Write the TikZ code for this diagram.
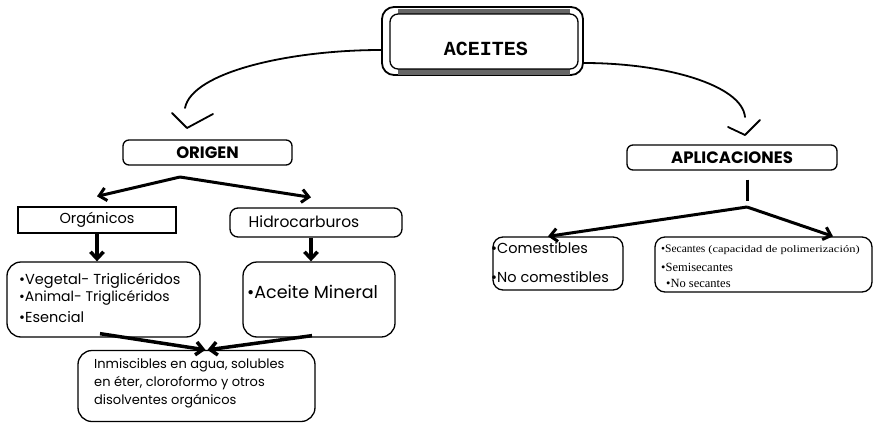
\documentclass[tikz,border=0pt]{standalone}
\usepackage{fontspec}
\usepackage{graphicx}
\setmainfont{Poppins}
\newfontfamily\serifF{Liberation Serif}
\newfontfamily\monoF{Liberation Mono}
\usetikzlibrary{arrows.meta,calc}
\begin{document}
\begin{tikzpicture}[x=1pt,y=-1pt,
  box/.style={draw, line width=1.3pt, rounded corners=#1, inner sep=0pt},
  box/.default=10pt,
  txt/.style={inner sep=0pt, anchor=west, font=\fontsize{13}{15}\selectfont},
  sertxt/.style={inner sep=0pt, anchor=west, font=\serifF\fontsize{12.5}{14}\selectfont},
  heavy/.style={line width=#1, -{Straight Barb[length=7pt,width=13pt,line width=#1]}},
  heavy/.default=3pt,
  bigcurve/.style={line width=1.8pt, line cap=round, line join=round},
]
\useasboundingbox (0,0) rectangle (881,423);

% ACEITES
\node[box=12pt, line width=1.8pt, minimum width=201pt, minimum height=68pt] (aceites) at (482.5,41) {};
\fill[black!60] (398,8.5) rectangle (570,14);
\fill[black!60] (398,69) rectangle (570,74.5);
\draw[line width=1.3pt, rounded corners=8pt] (390,14) rectangle (578,69);
\node[inner sep=0pt, font=\monoF\bfseries\fontsize{20}{20}\selectfont] (aceitestxt) at (486,49) {ACEITES};

% ORIGEN branch
\node[box=6pt, minimum width=169pt, minimum height=25pt, font=\bfseries\fontsize{16.5}{18}\selectfont] (origen) at (207.5,152.5) {ORIGEN};
\node[draw, line width=1.3pt, inner sep=0pt, minimum width=158pt, minimum height=26pt, font=\fontsize{14.5}{16}\selectfont] (org) at (97,220) {Orgánicos};
\node[box=8pt, minimum width=172pt, minimum height=29pt] (hidro) at (316,222.5) {};
\node[inner sep=0pt, font=\fontsize{15.5}{17}\selectfont] (hidrotxt) at (304,222) {Hidrocarburos};

\node[box=14pt, minimum width=193pt, minimum height=75pt] (veg) at (103.5,299.5) {};
\node[txt, font=\fontsize{14.5}{16}\selectfont] (t1) at (19,281) {\textbullet Vegetal- Triglicéridos};
\node[txt, font=\fontsize{14}{16}\selectfont] (t2) at (19,298) {\textbullet Animal- Triglicéridos};
\node[txt, font=\fontsize{14.5}{16}\selectfont] (t3) at (19,317) {\textbullet Esencial};

\node[box=14pt, minimum width=152pt, minimum height=75pt] (mineral) at (319,299.5) {};
\node[txt, font=\fontsize{17.5}{19}\selectfont] (t4) at (247,292) {\textbullet Aceite Mineral};

\node[box=14pt, minimum width=237pt, minimum height=71pt] (bottom) at (196.5,386) {};
\node[txt] (t5) at (94,365) {Inmiscibles en agua, solubles};
\node[txt] (t6) at (94,383) {en éter, cloroformo y otros};
\node[txt] (t7) at (94,401) {disolventes orgánicos};

% APLICACIONES branch
\node[box=6pt, minimum width=210pt, minimum height=25pt, font=\bfseries\fontsize{16.5}{18}\selectfont] (apl) at (732,157.5) {APLICACIONES};
\node[box=10pt, minimum width=130pt, minimum height=53pt] (comest) at (558,263.5) {};
\node[txt, font=\fontsize{14.5}{16}\selectfont] (t8) at (491,248) {\textbullet Comestibles};
\node[txt, font=\fontsize{14.5}{16}\selectfont] (t9) at (491,277) {\textbullet No comestibles};

\node[box=10pt, minimum width=217pt, minimum height=55pt] (sec) at (763.5,264.5) {};
\node[sertxt, font=\serifF\fontsize{11.5}{13}\selectfont] (t10) at (661,250) {\textbullet Secantes \scalebox{1.25}[1]{\fontsize{10}{12}\selectfont(capacidad de polimerización)}};
\node[sertxt] (t11) at (661,267) {\textbullet Semisecantes};
\node[sertxt] (t12) at (666,283) {\textbullet No secantes};

% curved connectors from ACEITES
\coordinate (lend) at (185,108);
\coordinate (lv) at (187,128);
\draw[bigcurve] ([yshift=-9pt]aceites.west) .. controls (290,50) and (192,72) .. (lend);
\draw[bigcurve] ($(lv)+(-15,-15)$) -- (lv) -- ($(lv)+(26,-14)$);

\coordinate (rend) at (745,117);
\coordinate (rv) at (745,135);
\draw[bigcurve] ([yshift=-22pt]aceites.east) .. controls (665,63) and (742,85) .. (rend);
\draw[bigcurve] ($(rv)+(-17,-8)$) -- (rv) -- ($(rv)+(15,-15)$);

% ORIGEN split
\coordinate (oj) at (180,177);
\draw[heavy] (oj) -- ([yshift=10pt]org.north);
\draw[heavy] (oj) -- ([shift={(-5pt,10pt)}]hidro.north);

\draw[heavy=3.5pt] (org.south) -- (org.south |- veg.north);
\draw[heavy=3.5pt] ([xshift=-5pt]hidro.south) -- ([xshift=-5pt]hidro.south |- mineral.north);

\draw[heavy=3.5pt] ([shift={(-3.5pt,4pt)}]veg.south) -- ([xshift=9pt]bottom.north);
\draw[heavy=3.5pt] ([shift={(-7pt,2pt)}]mineral.south) -- ([xshift=11pt]bottom.north);

% APLICACIONES split
\draw[line width=3pt] ([shift={(15pt,-9pt)}]apl.south) -- ([shift={(15pt,-30pt)}]apl.south);
\coordinate (aj) at (747,207);
\draw[heavy] (aj) -- ([xshift=-10pt]comest.north);
\draw[heavy] (aj) -- ([xshift=69.5pt]sec.north);
\end{tikzpicture}
\end{document}
